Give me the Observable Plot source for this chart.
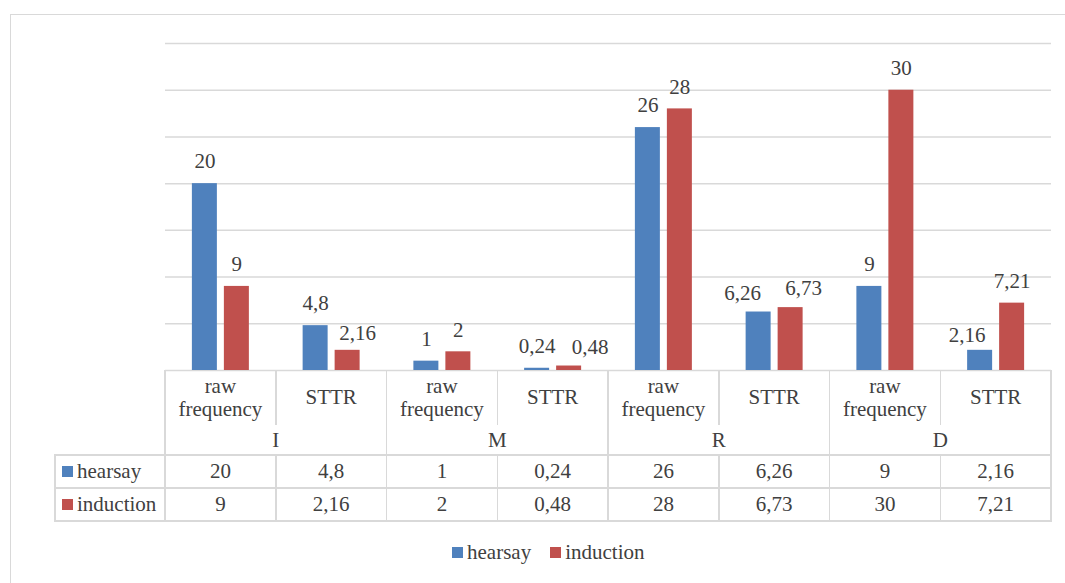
<!DOCTYPE html>
<html>
<head>
<meta charset="utf-8">
<script src="https://cdn.jsdelivr.net/npm/d3@7"></script>
<script src="https://cdn.jsdelivr.net/npm/@observablehq/plot@0.6"></script>
<style>
  html, body { margin: 0; padding: 0; background: #fff; width: 1065px; height: 583px; overflow: hidden; }
  #chart { position: relative; width: 1065px; height: 583px; font-family: "Liberation Serif", "Times New Roman", serif; color: #404040; }
  #chart svg { position: absolute; left: 0; top: 0; }
  #chart svg text { font-family: "Liberation Serif", "Times New Roman", serif !important; }
  .frame { position: absolute; left: 10px; top: 14px; width: 1200px; height: 700px; border-left: 1.5px solid #d9d9d9; border-top: 1.5px solid #d9d9d9; }
  .ln { position: absolute; background: #d9d9d9; }
  .cell { position: absolute; display: flex; align-items: center; justify-content: center; text-align: center; font-size: 21px; line-height: 23px; box-sizing: border-box; padding: 0 4px; }
  .rowhead { justify-content: flex-start; padding-left: 7px; }
  .key { display: inline-block; width: 11px; height: 11px; margin-right: 4px; }
  .legend { position: absolute; top: 541px; left: 452px; display: flex; align-items: center; font-size: 21px; line-height: 23px; }
  .legend span.item { display: inline-flex; align-items: center; margin-right: 19px; }
</style>
</head>
<body>
<div id="chart"><div class="frame"></div></div>
<script>
// ---- data ----
const groups = ["I", "M", "R", "D"];
const measures = ["raw frequency", "STTR"];
const seriesNames = ["hearsay", "induction"];
const hearsay = [20, 4.8, 1, 0.24, 26, 6.26, 9, 2.16];
const induction = [9, 2.16, 2, 0.48, 28, 6.73, 30, 7.21];
const gridValues = [0, 5, 10, 15, 20, 25, 30, 35];
const colors = ["#4F81BD", "#C0504D"];

// one row per (group, measure) column
const rows = hearsay.map((h, i) => ({
  group: groups[Math.floor(i / measures.length)],
  measure: measures[i % measures.length],
  key: groups[Math.floor(i / measures.length)] + " / " + measures[i % measures.length],
  hearsay: h,
  induction: induction[i]
}));
const keys = rows.map(d => d.key);
const fmt = v => String(v).replace(".", ",");

// ---- layout ----
const W = 1065, H = 372;
const mL = 165, mR = 14, mT = 43, mB = 2;
const bandW = (W - mL - mR) / keys.length;
const inner = d3.scaleBand().domain(seriesNames).range([0, bandW]).paddingInner(0.21875).paddingOuter(0.84);
const insetL = s => inner(s);
const insetR = s => bandW - inner(s) - inner.bandwidth();
const labelDx = s => inner(s) + inner.bandwidth() / 2 - bandW / 2;

// small label offsets that keep neighbouring value labels apart
const nudge = {
  "I / STTR|induction": [10, 5],
  "M / STTR|induction": [21, 3.5],
  "R / STTR|hearsay": [-16, 3.5],
  "R / STTR|induction": [13, 3],
  "D / STTR|hearsay": [-13, 7]
};

const labelMarks = [];
rows.forEach(r => seriesNames.forEach(s => {
  const [nx, ny] = nudge[r.key + "|" + s] || [0, 0];
  labelMarks.push(Plot.text([r], {
    x: "key", y: s, text: d => fmt(d[s]),
    dx: labelDx(s) + nx, dy: -22 + ny,
    fill: "#404040", fontSize: 21
  }));
}));

const plot = Plot.plot({
  width: W, height: H,
  marginLeft: mL, marginRight: mR, marginTop: mT, marginBottom: mB,
  x: { type: "band", domain: keys, padding: 0, round: false, axis: null },
  y: { domain: [0, 35], axis: null },
  style: { background: "transparent", fontFamily: "\"Liberation Serif\", \"Times New Roman\", serif", color: "#404040", overflow: "visible" },
  marks: [
    Plot.ruleY(gridValues, { stroke: "#d9d9d9", strokeWidth: 1.5 }),
    ...seriesNames.map((s, j) => Plot.barY(rows, {
      x: "key", y: s, fill: colors[j],
      insetLeft: insetL(s), insetRight: insetR(s)
    })),
    ...labelMarks
  ]
});
const chart = document.getElementById("chart");
chart.appendChild(plot);

// ---- data table under the bars ----
const y0 = H - mB;               // table top (chart baseline)
const rowA = 55, rowB = 30, rowH = 33;
const yB = y0 + rowA, yC = yB + rowB, yD = yC + rowH, yE = yD + rowH;
const tableLeft = 55;
const colX = i => mL + i * bandW;
const lw = 1.5;

function line(x, y, w, h) {
  const el = document.createElement("div");
  el.className = "ln";
  Object.assign(el.style, { left: x + "px", top: y + "px", width: w + "px", height: h + "px" });
  chart.appendChild(el);
}
function cell(x, y, w, h, html, cls) {
  const el = document.createElement("div");
  el.className = "cell" + (cls ? " " + cls : "");
  Object.assign(el.style, { left: x + "px", top: y + "px", width: w + "px", height: h + "px" });
  el.innerHTML = html;
  chart.appendChild(el);
}

// horizontal rules
[yC, yD, yE].forEach(y => line(tableLeft - lw / 2, y - lw / 2, colX(keys.length) - tableLeft + lw, lw));
// outer verticals and group dividers
line(tableLeft - lw / 2, yC, lw, yE - yC);
for (let i = 0; i <= keys.length; i++) {
  const x = colX(i) - lw / 2;
  if (i % measures.length === 0) line(x, y0, lw, yE - y0);
  else { line(x, y0, lw, rowA); line(x, yC, lw, yE - yC); }
}

// header cells
rows.forEach((r, i) => cell(colX(i), y0, bandW, rowA, r.measure));
groups.forEach((g, i) => cell(colX(i * measures.length), yB, bandW * measures.length, rowB, g));

// value rows
seriesNames.forEach((s, j) => {
  const y = j === 0 ? yC : yD;
  cell(tableLeft, y, mL - tableLeft, rowH,
    `<span class="key" style="background:${colors[j]}"></span>${s}`, "rowhead");
  rows.forEach((r, i) => cell(colX(i), y, bandW, rowH, fmt(r[s])));
});

// legend
const legend = document.createElement("div");
legend.className = "legend";
legend.innerHTML = seriesNames.map((s, j) =>
  `<span class="item"><span class="key" style="background:${colors[j]}"></span>${s}</span>`).join("");
chart.appendChild(legend);
</script>
</body>
</html>
